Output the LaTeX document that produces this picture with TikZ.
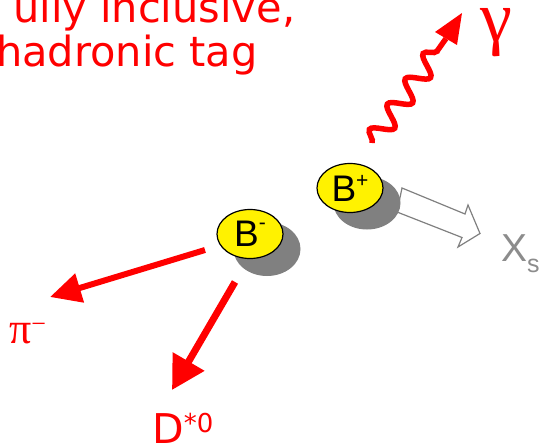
\documentclass[tikz,border=0pt]{standalone}
\usepackage{fontspec}
\usetikzlibrary{arrows.meta,decorations.pathmorphing,shapes.geometric}
\newfontfamily\dvfont{DejaVu Sans}
\newfontfamily\lsfont{Liberation Sans}
\newfontfamily\lsrfont{Liberation Serif}
\definecolor{shadowgray}{HTML}{808080}
\definecolor{xsgray}{HTML}{8C8C8C}
\tikzset{
  redtext/.style={text=red, inner sep=0pt, anchor=base west, font=\dvfont\fontsize{41.5}{42}\selectfont},
  ball/.style={ellipse, draw=black, line width=1.2pt, fill=yellow, minimum width=66pt, minimum height=49pt, inner sep=0pt, font=\lsfont\fontsize{37}{37}\selectfont},
  redarrow/.style={draw=red, line width=6pt},
  hollowarrow/.style={draw=shadowgray, fill=white, line width=1.2pt, line join=miter},
  photon/.style={draw=red, line width=5.5pt, decorate, decoration={snake, segment length=31pt, amplitude=10pt, post length=4pt}},
}
\begin{document}
\begin{tikzpicture}[x=1pt,y=-1pt]
\useasboundingbox (0,0) rectangle (543,447);
% title text
\node[redtext] (t1) at (13,23) {ully inclusive,};
\node[redtext] (t2) at (-4,66) {hadronic tag};
% hollow arrow to X_s (behind the B+ shadow)
\draw[hollowarrow] (402,188) -- (465,214) -- (468,205) -- (480,233.5) -- (458,247) -- (462,237.5) -- (397,212) -- cycle;
% shadows
\fill[shadowgray] (367,203) ellipse [x radius=33.5pt, y radius=26.5pt];
\fill[shadowgray] (267,249) ellipse [x radius=33.5pt, y radius=27pt];
% balls
\node[ball] (bp) at (350,188) {B\raisebox{0.38em}{\fontsize{21}{21}\selectfont +}};
\node[ball] (bm) at (250,234) {B\raisebox{0.46em}{\fontsize{21}{21}\selectfont -}};
% photon
\coordinate (ph0) at (372,143);
\coordinate (ph1) at (462,13);
\draw[photon] (ph0) -- (446,38.5);
\fill[red] (ph1) -- (435,32) -- (457,45) -- cycle;
\node[text=red, inner sep=0pt, font=\lsrfont\fontsize{72}{72}\selectfont] (gam) at (496,33) {γ};
% pi arrow
\coordinate (pis) at (205,250);
\coordinate (pie) at (50,297);
\draw[redarrow, -{Triangle[length=31pt,width=29pt]}] (pis) -- (pie);
\node[text=red, inner sep=0pt, anchor=base west, font=\lsrfont\fontsize{44}{44}\selectfont] (pi) at (9,343) {π\raisebox{11pt}{\fontsize{26}{26}\selectfont −}};
% D arrow
\coordinate (ds) at (235,282);
\coordinate (de) at (172,390);
\draw[redarrow, line width=7pt, -{Triangle[length=33pt,width=35pt]}] (ds) -- (de);
\node[text=red, inner sep=0pt, anchor=base west, font=\dvfont\fontsize{41}{41}\selectfont] (dst) at (152,443) {D\raisebox{11pt}{\fontsize{26}{26}\selectfont *0}};
% X_s
\node[text=xsgray, inner sep=0pt, anchor=base west, font=\lsfont\fontsize{39}{39}\selectfont] (xs) at (501,261) {X\raisebox{-0.3em}{\fontsize{25}{25}\selectfont s}};
\end{tikzpicture}
\end{document}
